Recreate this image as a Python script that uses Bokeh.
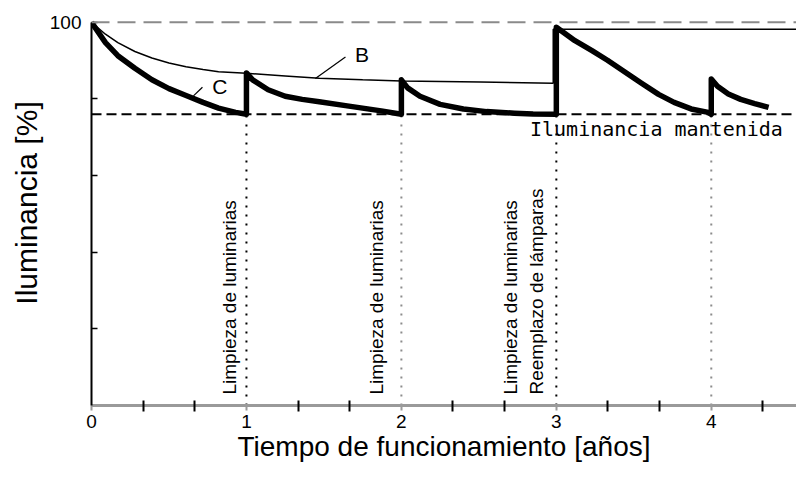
from bokeh.plotting import figure
from bokeh.models import Range1d, FixedTicker, Span
from bokeh.core.properties import value
from bokeh.embed import file_html
from bokeh.resources import INLINE
import math

# ---- data ----
years = [0, 1, 2, 3, 4]
year_labels = ["0", "1", "2", "3", "4"]
minor_years = [0.333, 0.667, 1.333, 1.667, 2.333, 2.667, 3.333, 3.667, 4.333]
y_ticks = [20, 40, 60, 80, 100]
reference_level = 100
maintained_level = 76

# curve C (real illuminance with cleaning / lamp replacement)
c_x = [0, 0.09, 0.17, 0.28, 0.39, 0.50, 0.61, 0.72, 0.82, 0.93, 1.0,
       1.0, 1.04, 1.14, 1.25, 1.36, 1.47, 1.65, 1.87, 2.0,
       2.0, 2.04, 2.12, 2.25, 2.40, 2.55, 2.73, 2.85, 3.0,
       3.0, 3.12, 3.23, 3.33, 3.44, 3.55, 3.66, 3.76, 3.87, 3.98, 4.0,
       4.0, 4.04, 4.11, 4.19, 4.28, 4.37]
c_y = [100, 94.7, 91.3, 88.0, 85.0, 82.7, 80.9, 79.1, 77.6, 76.5, 76.0,
       86.8, 85.0, 82.4, 80.7, 79.9, 79.3, 78.2, 76.9, 76.0,
       85.0, 82.9, 80.7, 78.6, 77.4, 76.7, 76.3, 76.1, 76.0,
       98.7, 95.2, 92.6, 90.1, 87.1, 84.1, 81.2, 79.1, 77.4, 76.5, 76.0,
       85.2, 83.3, 81.3, 79.9, 78.8, 77.8]

# curve B (lamp lumen depreciation)
b_x = [0, 0.09, 0.17, 0.28, 0.39, 0.50, 0.61, 0.72, 0.82, 1.0, 1.25, 1.47,
       1.75, 2.0, 2.51, 2.98, 2.98, 4.58]
b_y = [100, 96.9, 94.7, 92.4, 90.7, 89.4, 88.4, 87.7, 87.1, 86.7, 86.0, 85.4,
       85.0, 84.7, 84.4, 84.1, 98.2, 98.2]

# maintenance events
event_x = [1, 2, 3, 4]
event_colors = ["black", "#8c8c8c", "black", "#8c8c8c"]
event_texts = ["Limpieza de luminarias", "Limpieza de luminarias",
               "Limpieza de luminarias", "Reemplazo de lámparas"]
event_text_x = [1, 2, 3, 3]
event_text_offsets = [-6, -14, -35, -9]

FONT = "Liberation Sans"

p = figure(width=796, height=464, output_backend="svg", toolbar_location=None,
           x_range=Range1d(0, 4.55), y_range=Range1d(0, 105.7),
           min_border_left=91, min_border_right=0, min_border_top=0,
           min_border_bottom=0, background_fill_color="white",
           border_fill_color="white", outline_line_color=None)
p.grid.visible = False

# axes
xa = p.xaxis[0]
xa.ticker = FixedTicker(ticks=years, minor_ticks=minor_years)
xa.major_label_overrides = {y: l for y, l in zip(years, year_labels)}
xa.bounds = (0, 4.58)
xa.axis_line_color = "#9a9a9a"
xa.axis_line_width = 3
xa.major_tick_line_color = "#9a9a9a"
xa.major_tick_line_width = 2
xa.major_tick_in = 0
xa.major_tick_out = 5
xa.minor_tick_line_color = "black"
xa.minor_tick_line_width = 2
xa.minor_tick_in = 5
xa.minor_tick_out = 6
xa.major_label_text_font = FONT
xa.major_label_text_font_size = "19px"
xa.major_label_text_color = "black"
xa.major_label_standoff = 3
xa.axis_label = "Tiempo de funcionamiento [años]"
xa.axis_label_text_font = FONT
xa.axis_label_text_font_size = "28px"
xa.axis_label_text_font_style = "normal"
xa.axis_label_text_color = "black"
xa.axis_label_standoff = 0

ya = p.yaxis[0]
ya.ticker = FixedTicker(ticks=y_ticks)
ya.major_label_overrides = {t: ("100" if t == reference_level else "") for t in y_ticks}
ya.bounds = (0, reference_level)
ya.axis_line_color = "black"
ya.axis_line_width = 2
ya.major_tick_line_color = "black"
ya.major_tick_line_width = 1.5
ya.major_tick_in = 6
ya.major_tick_out = 0
ya.minor_tick_line_color = None
ya.major_label_text_font = FONT
ya.major_label_text_font_size = "19px"
ya.major_label_text_color = "black"
ya.major_label_standoff = 10
ya.axis_label = "Iluminancia [%]"
ya.axis_label_text_font = FONT
ya.axis_label_text_font_size = "30px"
ya.axis_label_text_font_style = "normal"
ya.axis_label_text_color = "black"
ya.axis_label_standoff = 4

# reference lines
p.add_layout(Span(location=reference_level, dimension="width",
                  line_color="#8a8a8a", line_width=2, line_dash="18 8"))
p.add_layout(Span(location=maintained_level, dimension="width",
                  line_color="black", line_width=2, line_dash="10 5"))

# dotted event lines
p.segment(x0=event_x, y0=[0] * len(event_x), x1=event_x,
          y1=[maintained_level] * len(event_x), line_color=event_colors,
          line_width=2, line_dash="2 7")

# curves
p.line(b_x, b_y, line_color="black", line_width=1.5)
p.line(c_x, c_y, line_color="black", line_width=5.5, line_join="round")

# event labels
for tx, txt, off in zip(event_text_x, event_texts, event_text_offsets):
    p.text(x=[tx], y=[0], text=[txt], angle=math.pi / 2,
           text_font=value(FONT), text_font_size="19px", text_color="black",
           text_align="left", text_baseline="bottom",
           x_offset=off, y_offset=-11)

# maintained illuminance text
p.text(x=[2.83], y=[maintained_level], text=["Iluminancia mantenida"],
       text_font=value("DejaVu Sans Mono"), text_font_size="20px",
       text_color="black", text_align="left", text_baseline="top",
       y_offset=3)

# B and C labels with leaders
p.segment(x0=[1.445, 0.658], y0=[85.35, 80.8], x1=[1.639, 0.716], y1=[90.96, 83.06],
          line_color="black", line_width=1.2)
p.text(x=[1.70, 0.78], y=[91.7, 83.3], text=["B", "C"], text_font=value(FONT),
       text_font_size="21px", text_color="black", text_align="left",
       text_baseline="middle")

open("out.html", "w").write(file_html(p, INLINE))
